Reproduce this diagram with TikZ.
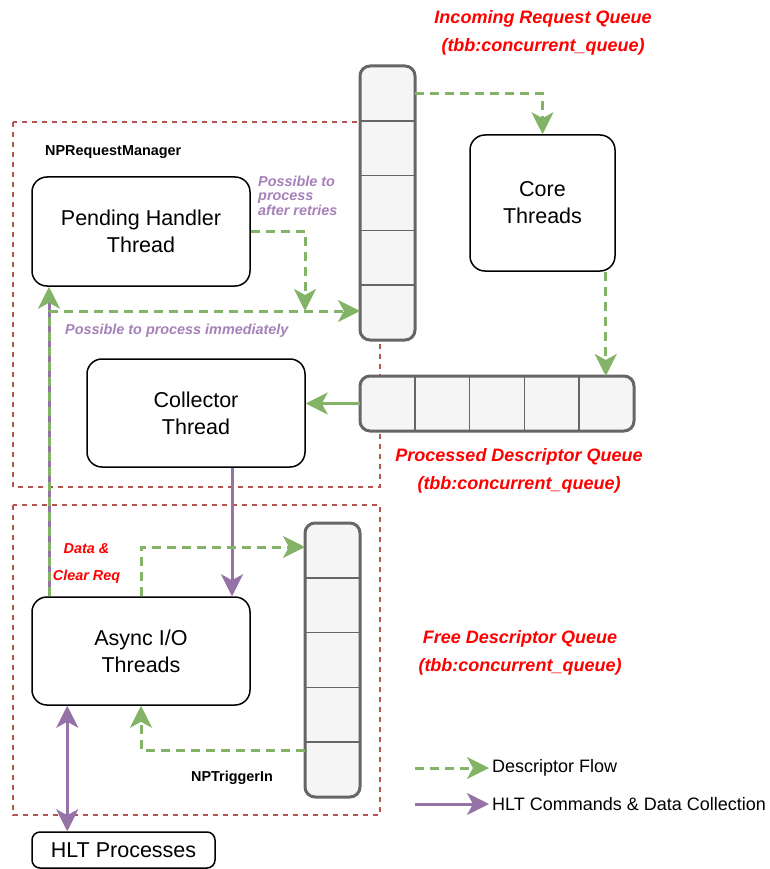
\documentclass[tikz,border=0pt]{standalone}
\usepackage{fontspec}
\setmainfont{Liberation Sans}
\usetikzlibrary{arrows.meta,positioning}
\definecolor{flowc}{HTML}{82B366}
\definecolor{cmdc}{HTML}{9673A6}
\definecolor{grpc}{HTML}{B85450}
\definecolor{qline}{HTML}{666666}
\definecolor{qfill}{HTML}{F5F5F5}
\definecolor{notec}{HTML}{A680B8}
\newcommand\fsz[2]{\fontsize{#1}{#2}\selectfont}
\tikzset{tip/.style={-{Stealth[length=22pt,width=22pt,inset=6pt,#1]}},
         both/.style={{Stealth[length=22pt,width=22pt,inset=6pt]}-{Stealth[length=22pt,width=22pt,inset=6pt]}},
         box/.style={draw, line width=1.5pt, rounded corners=15pt, align=center,
                     inner sep=0pt, font=\fsz{21.5}{27}},
         queue/.style={draw=qline, fill=qfill, line width=3pt, rounded corners=10pt,
                       inner sep=0pt, outer sep=0pt},
         cell/.style={draw=qline, line width=1.5pt},
         grp/.style={draw=grpc, line width=1.5pt, dash pattern=on 5pt off 5pt},
         flow/.style={draw=flowc, line width=3pt, dash pattern=on 9pt off 6pt, tip={}},
         cmd/.style={draw=cmdc, line width=3pt, tip={}},
         qlabel/.style={text=red, align=center, font=\fsz{18}{28}\bfseries\itshape},
         note/.style={text=notec, inner sep=0pt, font=\fsz{14.4}{14.5}\bfseries\itshape},
         tag/.style={inner sep=0pt, font=\fsz{14.4}{17}\bfseries},
         legend/.style={anchor=west, inner sep=3pt, font=\fsz{18}{22}}}

\begin{document}
\begin{tikzpicture}[x=1pt,y=-1pt]
  \useasboundingbox (0,0) rectangle (770,869);
  \draw[grp] (13,122) rectangle (380,487);
  \draw[grp] (13,505) rectangle (380,815);

  \node[box, minimum width=218, minimum height=109] (pend) at (141,231.5) {Pending Handler\\Thread};
  \node[box, minimum width=145, minimum height=136] (core) at (542.5,203) {Core\\Threads};
  \node[box, minimum width=218, minimum height=108] (coll) at (196,413) {Collector\\Thread};
  \node[box, minimum width=218, minimum height=108] (aio) at (141,651) {Async I/O\\Threads};
  \node[box, rounded corners=8pt, minimum width=183, minimum height=36] (hlt) at (123.5,850) {HLT Processes};

  \node[queue, minimum width=55, minimum height=274] (inq) at (387.5,203) {};
  \node[queue, minimum width=274, minimum height=55] (pdq) at (497,403.5) {};
  \node[queue, minimum width=55, minimum height=274] (fdq) at (332.5,660) {};
  \foreach \i in {1,...,4} {
    \draw[cell] ([yshift=-\i*54.8pt]inq.north west) -- ([yshift=-\i*54.8pt]inq.north east);
    \draw[cell] ([xshift=\i*54.8pt]pdq.north west) -- ([xshift=\i*54.8pt]pdq.south west);
    \draw[cell] ([yshift=-\i*54.8pt]fdq.north west) -- ([yshift=-\i*54.8pt]fdq.north east);
  }

  \node[qlabel] (inql) at (543,33) {Incoming Request Queue\\(tbb:concurrent\_queue)};
  \node[qlabel] (pdql) at (519,471) {Processed Descriptor Queue\\(tbb:concurrent\_queue)};
  \node[qlabel] (fdql) at (520,652.5) {Free Descriptor Queue\\(tbb:concurrent\_queue)};
  \node[tag, anchor=west] (nprm) at (45,152) {NPRequestManager};
  \node[tag] (nptr) at (232,778) {NPTriggerIn};
  \node[note, anchor=west, align=left] (retry) at (258,195.5) {Possible to\\process\\after retries};
  \node[note, anchor=west] (now) at (65,331) {Possible to process immediately};
  \node[qlabel, font=\fsz{14.4}{27}\bfseries\itshape] (clr) at (86.5,564) {Data \&\\Clear Req};

  \coordinate (k) at (49,311);
  \coordinate (j) at (305,311);
  \draw[flow] ([yshift=-28pt]inq.north east) -| (core.north);
  \draw[flow] (pend.east) -| (j);
  \draw[cmd, tip={color=flowc}] (aio.north -| k) -- (pend.south -| k);
  \draw[flow] (aio.north -| k) -- (k) -- (inq.west |- k);
  \draw[flow] ([xshift=-10pt]core.south east) -- ([xshift=-10pt]core.south east |- pdq.north);
  \draw[flow, solid] (pdq.west) -- (pdq.west -| coll.east);
  \draw[cmd] ([xshift=36pt]coll.south) -- ([xshift=36pt]coll.south |- aio.north);
  \draw[flow] (aio.north) |- ([yshift=-24pt]fdq.north west);
  \draw[flow] ([yshift=47pt]fdq.south west) -| (aio.south);
  \draw[cmd, both] ([xshift=36pt]aio.south west) -- ([xshift=36pt]aio.south west |- hlt.north);

  \coordinate (lg1) at (415,768);
  \coordinate (lg2) at (415,804);
  \node[legend] (lgf) at (489,768) {Descriptor Flow};
  \node[legend] (lgc) at (489,804) {HLT Commands \& Data Collection};
  \draw[flow] (lg1) -- (lgf.west);
  \draw[cmd] (lg2) -- (lgc.west);
\end{tikzpicture}
\end{document}
